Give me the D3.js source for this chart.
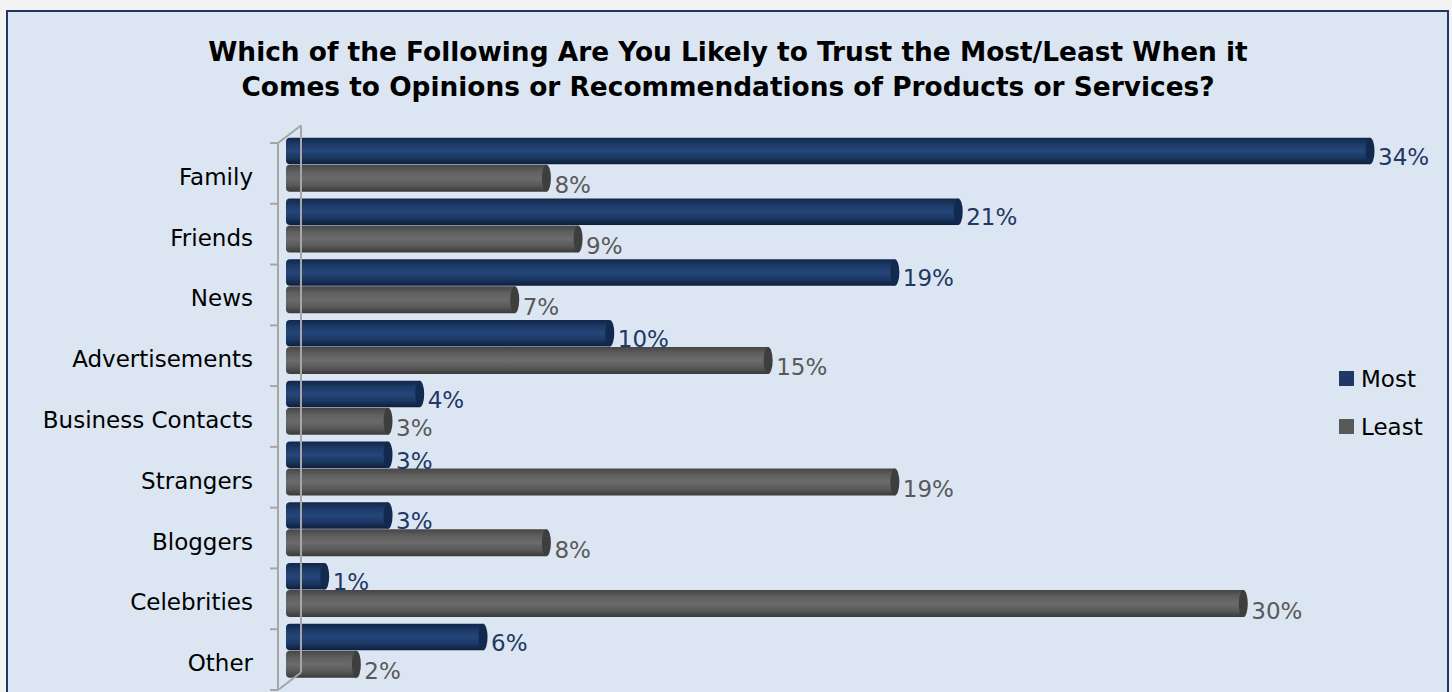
<!DOCTYPE html>
<html>
<head>
<meta charset="utf-8">
<script src="https://cdn.jsdelivr.net/npm/d3@7"></script>
<style>
  html, body { margin: 0; padding: 0; background: #f3f3f3; }
  svg { display: block; }
</style>
</head>
<body>
<div id="chart"></div>
<script>
// data
var categories = ["Family", "Friends", "News", "Advertisements", "Business Contacts",
  "Strangers", "Bloggers", "Celebrities", "Other"];
var most = [34, 21, 19, 10, 4, 3, 3, 1, 6];
var least = [8, 9, 7, 15, 3, 19, 8, 30, 2];
var seriesNames = ["Most", "Least"];
var titleLines = ["Which of the Following Are You Likely to Trust the Most/Least When it",
  "Comes to Opinions or Recommendations of Products or Services?"];

var W = 1452, H = 692;
var font = "'DejaVu Sans', Verdana, sans-serif";
var depth = { dx: 23, dy: -17.5 };

var svg = d3.select("#chart").append("svg")
  .attr("width", W)
  .attr("height", H);

// frame
svg.append("rect")
  .attr("x", 7).attr("y", 11)
  .attr("width", 1441).attr("height", 720)
  .style("fill", "#dce6f2")
  .style("stroke", "#1f3864")
  .style("stroke-width", 2);

// title
svg.append("g").selectAll("text")
  .data(titleLines)
  .enter().append("text")
  .attr("x", 728)
  .attr("y", function (d, i) { return 61 + i * 35; })
  .attr("text-anchor", "middle")
  .style("font-family", font)
  .style("font-weight", "bold")
  .style("font-size", "26.4px")
  .style("fill", "#000")
  .text(function (d) { return d; });

// scales (front plane of the category axis)
var y = d3.scaleBand()
  .domain(categories)
  .range([143, 690]);

var x = d3.scaleLinear()
  .domain([0, 34])
  .range([293, 1370]);

// the bars sit half way into the depth
var midShift = depth.dy / 2;
var pairH = 54;

// gradients
var defs = svg.append("defs");
function cylGrad(id, stops) {
  var g = defs.append("linearGradient")
    .attr("id", id)
    .attr("x1", 0).attr("y1", 0).attr("x2", 0).attr("y2", 1);
  stops.forEach(function (s) {
    g.append("stop").attr("offset", s[0]).attr("stop-color", s[1]);
  });
}
cylGrad("gMost", [[0, "#102749"], [0.25, "#1d3a68"], [0.5, "#244679"], [0.75, "#1c3864"], [1, "#0d1e3b"]]);
cylGrad("gLeast", [[0, "#464646"], [0.25, "#5f5f5f"], [0.5, "#6b6b6b"], [0.75, "#5a5a5a"], [1, "#3a3a3a"]]);

// axis: back line, front line, connecting diagonals, ticks
var axis = svg.append("g")
  .style("stroke", "#a6a6a6")
  .style("stroke-width", 2)
  .style("fill", "none");

var fx = 278, y0 = y.range()[0], y1 = y.range()[1];
axis.append("line")
  .attr("x1", fx + depth.dx).attr("y1", y0 + depth.dy)
  .attr("x2", fx + depth.dx).attr("y2", y1 + depth.dy);
axis.append("line")
  .attr("x1", fx).attr("y1", y0)
  .attr("x2", fx + depth.dx).attr("y2", y0 + depth.dy);
axis.append("line")
  .attr("x1", fx).attr("y1", y1)
  .attr("x2", fx + depth.dx).attr("y2", y1 + depth.dy);

var bars = svg.append("g");

function drawCyl(g, x1, yt, h, fill, capFill) {
  var xs = x(0) - 7;
  var r = 4;
  g.append("path")
    .attr("d", "M" + (xs + r) + "," + yt +
      "L" + x1 + "," + yt +
      "L" + x1 + "," + (yt + h) +
      "L" + (xs + r) + "," + (yt + h) +
      "Q" + xs + "," + (yt + h) + " " + xs + "," + (yt + h - r) +
      "L" + xs + "," + (yt + r) +
      "Q" + xs + "," + yt + " " + (xs + r) + "," + yt + "Z")
    .style("fill", fill);
  g.append("ellipse")
    .attr("cx", x1)
    .attr("cy", yt + h / 2)
    .attr("rx", 4.5)
    .attr("ry", h / 2)
    .style("fill", capFill);
}

categories.forEach(function (c, i) {
  var top = y(c) + y.bandwidth() / 2 + midShift - pairH / 2;
  var g = bars.append("g");
  drawCyl(g, x(most[i]), top, 26.5, "url(#gMost)", "#132a50");
  drawCyl(g, x(least[i]), top + 27, 27, "url(#gLeast)", "#3e3e3e");

  g.append("text")
    .attr("x", x(most[i]) + 8)
    .attr("y", top + 13 + 14)
    .style("font-family", font)
    .style("font-size", "23px")
    .style("fill", "#1f3864")
    .text(most[i] + "%");
  g.append("text")
    .attr("x", x(least[i]) + 8)
    .attr("y", top + 27 + 13.5 + 15)
    .style("font-family", font)
    .style("font-size", "23px")
    .style("fill", "#595959")
    .text(least[i] + "%");
});

// front axis line drawn over the bar starts
axis.raise();
axis.append("line")
  .attr("x1", fx).attr("y1", y0)
  .attr("x2", fx).attr("y2", y1);
axis.selectAll(".tick")
  .data(d3.range(categories.length + 1))
  .enter().append("line")
  .attr("class", "tick")
  .attr("x1", fx - 8).attr("x2", fx)
  .attr("y1", function (d) { return y0 + d * y.step(); })
  .attr("y2", function (d) { return y0 + d * y.step(); });

// category labels
svg.append("g").selectAll("text")
  .data(categories)
  .enter().append("text")
  .attr("x", 253)
  .attr("y", function (d) { return y(d) + y.bandwidth() / 2 + 11.5; })
  .attr("text-anchor", "end")
  .style("font-family", font)
  .style("font-size", "23px")
  .style("fill", "#000")
  .text(function (d) { return d; });

// legend
var legendColors = ["#1f3864", "#595959"];
var legend = svg.append("g").selectAll("g")
  .data(seriesNames)
  .enter().append("g")
  .attr("transform", function (d, i) { return "translate(1339," + (371 + i * 48) + ")"; });
legend.append("rect")
  .attr("width", 15).attr("height", 15)
  .style("fill", function (d, i) { return legendColors[i]; });
legend.append("text")
  .attr("x", 22).attr("y", 16)
  .style("font-family", font)
  .style("font-size", "23px")
  .style("fill", "#000")
  .text(function (d) { return d; });
</script>
</body>
</html>
